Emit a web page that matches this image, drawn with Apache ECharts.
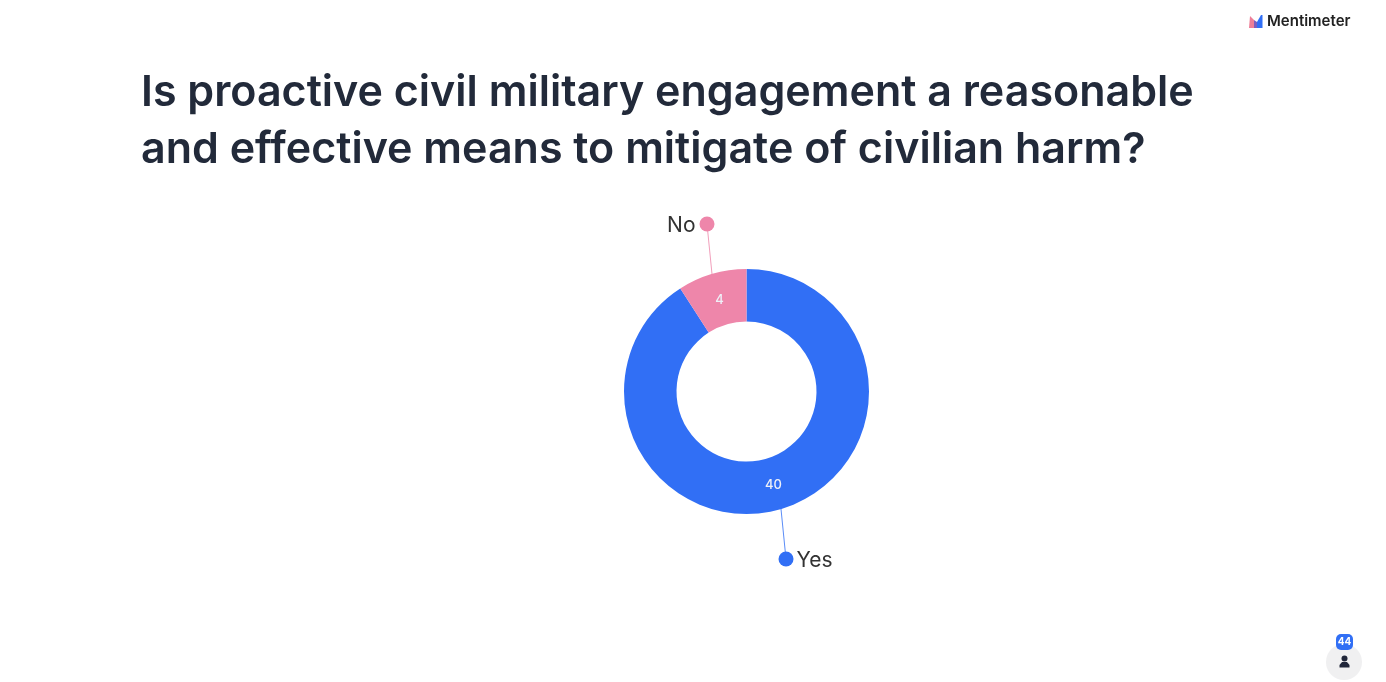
<!DOCTYPE html>
<html>
<head>
<meta charset="utf-8">
<style>html,body{margin:0;padding:0;background:#fff}#c{width:1386px;height:682px}</style>
<script src="https://cdn.jsdelivr.net/npm/echarts@6/dist/echarts.min.js"></script>
</head>
<body>
<div id="c"></div>
<script>
const categories = ['Yes', 'No'];
const values = [40, 4];
const colors = ['#316ff5', '#ee86aa'];
const titleText = 'Is proactive civil military engagement a reasonable\nand effective means to mitigate of civilian harm?';
const brandText = 'Mentimeter';
const totalResponses = '44';
const lineEndOffsets = [[5, 50], [-5, -50]];
const valueLabelOffsets = [[-1, -2], [1, 4]];

const chart = echarts.init(document.getElementById('c'), null, {renderer: 'canvas'});
const pieData = categories.map((name, i) => ({
  name, value: values[i], itemStyle: {color: colors[i]},
  label: {offset: valueLabelOffsets[i]}
}));
const outerData = categories.map((name, i) => ({
  name, value: values[i],
  label: {formatter: i === 0 ? '{d0|}{t0|' + name + '}' : '{t1|' + name + '}{d1|}'},
  labelLine: {lineStyle: {color: colors[i], width: 1, opacity: 0.8}}
}));
const ff = 'Inter, "Noto Sans", sans-serif';
chart.setOption({
  backgroundColor: '#ffffff',
  animation: false,
  title: {
    text: titleText, left: 136, top: 60,
    textStyle: {fontFamily: ff, fontSize: 43, fontWeight: 600, color: '#222a3a', lineHeight: 57}
  },
  series: [
    {
      type: 'pie', center: [746.5, 391.5], radius: [70, 122.5], startAngle: 90, clockwise: true,
      silent: true, data: pieData,
      label: {position: 'inside', formatter: '{c}', color: '#eef0f8', fontSize: 13, fontFamily: ff, fontWeight: 500},
      labelLine: {show: false}
    },
    {
      type: 'pie', center: [746.5, 391.5], radius: [70, 122.5], startAngle: 90, clockwise: true,
      silent: true, data: outerData, z: 3,
      itemStyle: {color: 'transparent'},
      emphasis: {disabled: true},
      label: {
        position: 'outside', fontFamily: ff, color: '#333',
        rich: {
          t0: {fontSize: 21, fontFamily: ff, color: '#333', padding: [3, 0, 0, 3]},
          t1: {fontSize: 21, fontFamily: ff, color: '#333', padding: [3, 4, 0, 0]},
          d0: {width: 15, height: 15, borderRadius: 7.5, backgroundColor: colors[0]},
          d1: {width: 15, height: 15, borderRadius: 7.5, backgroundColor: colors[1]}
        }
      },
      labelLine: {show: true, length: 40, length2: 0},
      labelLayout: function (p) {
        const s = p.labelLinePoints[0];
        const o = lineEndOffsets[p.dataIndex];
        const e = [s[0] + o[0], s[1] + o[1]];
        const left = p.dataIndex === 0;
        return {
          x: e[0] + (left ? -7.5 : 7.5),
          y: e[1],
          align: left ? 'left' : 'right',
          verticalAlign: 'middle',
          labelLinePoints: [s, e, e]
        };
      }
    }
  ],
  graphic: [
    {type: 'text', left: 1267, top: 14, style: {text: brandText, font: '600 15px ' + ff, fill: '#222', textVerticalAlign: 'top'}},
    {type: 'polygon', shape: {points: [[1249, 28], [1250, 16], [1254, 20], [1254, 28]]}, style: {fill: '#ee7f98'}},
    {type: 'polygon', shape: {points: [[1254, 20], [1257, 22], [1257, 28], [1254, 28]]}, style: {fill: '#7a5fc0'}},
    {type: 'polygon', shape: {points: [[1257, 22], [1261, 15], [1262.5, 15], [1262.5, 28], [1257, 28]]}, style: {fill: '#316ff5'}},
    {type: 'circle', shape: {cx: 1344, cy: 662, r: 18}, style: {fill: '#f0f0f1'}},
    {type: 'rect', shape: {x: 1336, y: 634, width: 17, height: 16, r: 5}, style: {fill: '#316ff5'}, z: 2},
    {type: 'text', x: 1344.5, y: 642, z: 3, style: {text: totalResponses, font: '700 10px ' + ff, fill: '#fff', textAlign: 'center', textVerticalAlign: 'middle'}},
    {type: 'circle', shape: {cx: 1344.5, cy: 658.5, r: 3}, style: {fill: '#20263a'}, z: 2},
    {type: 'polygon', shape: {points: [[1339.5, 667.5], [1339.5, 665], [1342, 662], [1347, 662], [1349.5, 665], [1349.5, 667.5]]}, style: {fill: '#20263a'}, z: 2}
  ]
});
</script>
</body>
</html>
